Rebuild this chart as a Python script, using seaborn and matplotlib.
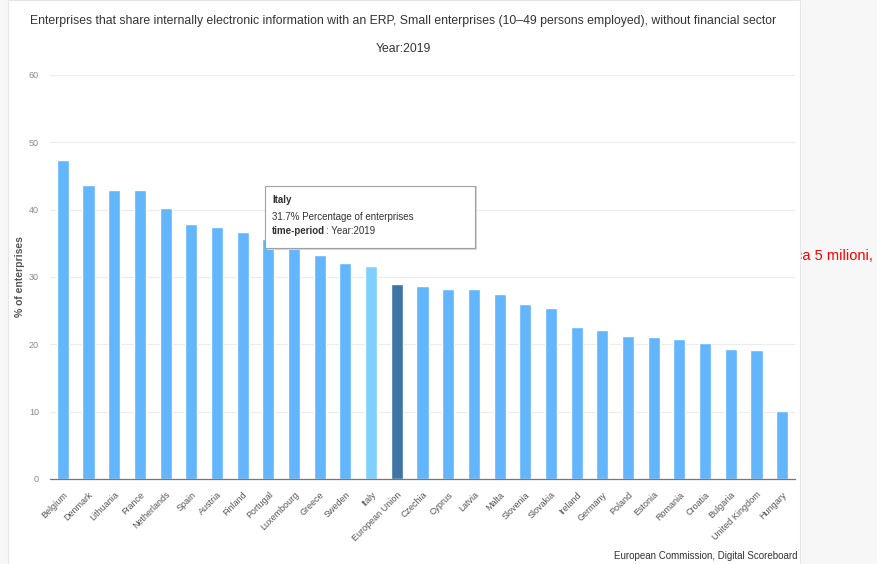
import numpy as np
import pandas as pd
import seaborn as sns
import matplotlib.pyplot as plt
from matplotlib.patches import Rectangle
from matplotlib.text import Annotation

# values (% of small enterprises, 2019)
countries = ["Belgium", "Denmark", "Lithuania", "France", "Netherlands", "Spain",
             "Austria", "Finland", "Portugal", "Luxembourg", "Greece", "Sweden",
             "Italy", "European Union", "Czechia", "Cyprus", "Latvia", "Malta",
             "Slovenia", "Slovakia", "Ireland", "Germany", "Poland", "Estonia",
             "Romania", "Croatia", "Bulgaria", "United Kingdom", "Hungary"]
values = [47.4, 43.7, 42.9, 42.9, 40.3, 37.9, 37.5, 36.7, 35.6, 34.5, 33.3, 32.1,
          31.7, 28.9, 28.7, 28.2, 28.2, 27.5, 26.0, 25.4, 22.6, 22.1, 21.3, 21.1,
          20.8, 20.2, 19.3, 19.2, 10.1]
yticks = [0, 10, 20, 30, 40, 50, 60]

normal_col = "#63b5fc"
italy_col = "#7fd0ff"
eu_col = "#3e74a6"
colors = [italy_col if c == "Italy" else eu_col if c == "European Union" else normal_col
          for c in countries]

df = pd.DataFrame({"Country": countries, "Value": values})

sns.set_theme(style="white")
plt.rcParams['font.family'] = ['Liberation Sans', 'DejaVu Sans']

W, H = 877, 564
fig = plt.figure(figsize=(W / 100, H / 100), dpi=100)
fig.patch.set_facecolor("#f7f7f7")

# pixel -> figure fraction helpers
def fx(px):
    return px / W

def fy(py):
    return 1 - py / H

# red text partly hidden behind the chart panel
fig.text(fx(795), fy(256), "ca 5 milioni,", color="red", fontsize=10.5,
         va="center", zorder=1)
# white chart panel
fig.patches.append(Rectangle((fx(8), 0), fx(800) - fx(8), 1, transform=fig.transFigure,
                             facecolor="white", edgecolor="#e6e6e6", lw=0.8, zorder=2))

ax = fig.add_axes([fx(50), fy(479), fx(795) - fx(50), fy(75) - fy(479)])
ax.set_zorder(3)
sns.barplot(data=df, x="Country", y="Value", hue="Country", palette=colors,
            width=0.47, legend=False, ax=ax, saturation=1)

ax.set_ylim(0, 60)
ax.set_xlim(-0.5, len(countries) - 0.5)
ax.set_yticks(yticks)
ax.set_yticklabels([str(t) for t in yticks], fontsize=6.5, color="#8a8a8a")
ax.yaxis.grid(True, color="#ececec", lw=0.8)
ax.set_axisbelow(True)
ax.tick_params(axis="y", length=0, pad=8)

ax.set_xticks(range(len(countries)))
ax.set_xticklabels(countries, rotation=45, ha="right", rotation_mode="anchor",
                   fontsize=6.5, color="#555555")
ax.tick_params(axis="x", which="major", length=0, pad=8)
# tick marks sit between the categories
ax.set_xticks(np.arange(-0.5, len(countries), 1), minor=True)
ax.tick_params(axis="x", which="minor", length=5, color="#777777", width=0.8)

for s in ["top", "right", "left"]:
    ax.spines[s].set_visible(False)
ax.spines["bottom"].set_color("#777777")
ax.spines["bottom"].set_linewidth(0.9)

ax.set_xlabel("")
ax.set_ylabel("% of enterprises", fontsize=7.5, color="#555555", fontweight="bold",
              labelpad=3)

fig.text(fx(403), fy(21), "Enterprises that share internally electronic information with an ERP, "
         "Small enterprises (10\u201349 persons employed), without financial sector",
         ha="center", va="center", fontsize=8.8, color="#333333", zorder=4)
fig.text(fx(403), fy(49), "Year:2019", ha="center", va="center", fontsize=8.8,
         color="#333333", zorder=4)

# tooltip for Italy
fig.patches.append(Rectangle((fx(267), fy(250)), fx(477) - fx(267), fy(186) - fy(250),
                             transform=fig.transFigure, facecolor="#d8d8d8",
                             edgecolor="none", zorder=5))
fig.patches.append(Rectangle((fx(265), fy(248)), fx(475) - fx(265), fy(186) - fy(248),
                             transform=fig.transFigure, facecolor="white",
                             edgecolor="#a0a0a0", lw=0.8, zorder=6))
fig.text(fx(272), fy(200), "Italy", fontsize=7, fontweight="bold", color="#333333",
         va="center", zorder=7)
fig.text(fx(272), fy(217), "31.7% Percentage of enterprises", fontsize=7,
         color="#333333", va="center", zorder=7)
tp = fig.text(fx(272), fy(234), "time-period", fontsize=7, fontweight="bold",
              color="#333333", va="baseline", zorder=7)
ann = Annotation(": Year:2019", xy=(1, 0), xycoords=tp, xytext=(1, 0),
                 textcoords="offset points", fontsize=7, color="#333333",
                 va="bottom", annotation_clip=False)
ann.set_zorder(7)
fig.add_artist(ann)

fig.text(fx(797), fy(556), "European Commission, Digital Scoreboard", ha="right",
         va="center", fontsize=7, color="#333333", zorder=4)

fig.savefig("out.png", dpi=100, facecolor=fig.get_facecolor())
